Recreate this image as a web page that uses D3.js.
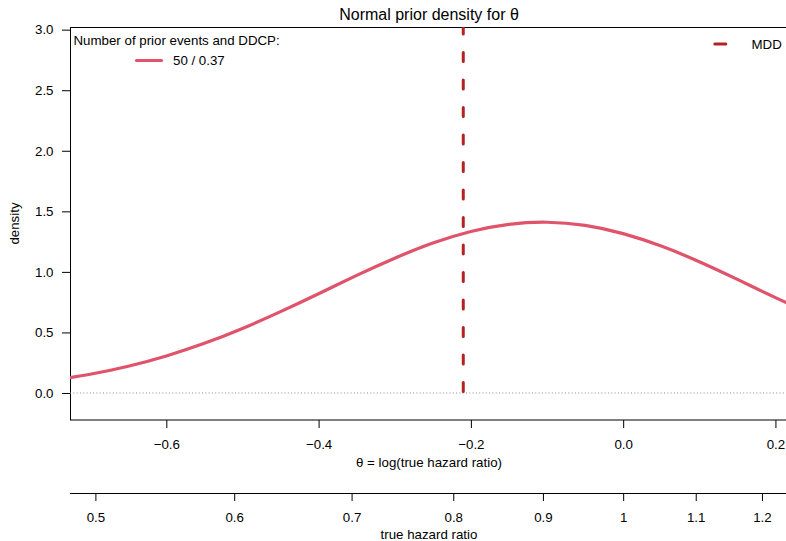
<!DOCTYPE html>
<html>
<head>
<meta charset="utf-8">
<script src="https://cdn.jsdelivr.net/npm/d3@7"></script>
<style>
  html, body { margin: 0; padding: 0; background: #fff; }
  svg { display: block; font-family: "Liberation Sans", Arial, Helvetica, sans-serif; }
</style>
</head>
<body>
<div id="chart"></div>
<script>
// ---- data ----
// theta grid (log hazard ratio) and the prior density drawn over it
const thetaGrid = [-0.75, -0.70, -0.65, -0.60, -0.55, -0.50, -0.45, -0.40, -0.35, -0.30, -0.25,
  -0.20, -0.15, -0.10, -0.05, 0.00, 0.05, 0.10, 0.15, 0.20, 0.25];
const densityValues = [0.105, 0.155, 0.221, 0.306, 0.410, 0.533, 0.672, 0.820, 0.971, 1.113, 1.238,
  1.334, 1.393, 1.410, 1.384, 1.316, 1.213, 1.084, 0.938, 0.787, 0.641];

const densityTicks = [0, 0.5, 1, 1.5, 2, 2.5, 3];
const thetaTicks = [-0.6, -0.4, -0.2, 0, 0.2];
const hazardTicks = [0.5, 0.6, 0.7, 0.8, 0.9, 1, 1.1, 1.2];
const hazardTickLabels = ['0.5', '0.6', '0.7', '0.8', '0.9', '1', '1.1', '1.2'];

const mddTheta = -0.21;
const legendTitle = 'Number of prior events and DDCP:';
const legendLabels = ['50 / 0.37'];
const mddLabel = 'MDD';

// ---- layout ----
const W = 786, H = 541;
const plot = { left: 70, right: 788, top: 27, bottom: 420 };
const thetaLim = [-0.7265, 0.2165];
const densityLim = [-0.223, 3.022];
const fontSize = 13.3;

const colors = {
  curve: '#DF536B',
  mdd: '#B22222',
  axis: '#000',
  zero: '#8a8a8a'
};

const svg = d3.select('#chart')
  .append('svg')
  .attr('width', W)
  .attr('height', H)
  .attr('viewBox', `0 0 ${W} ${H}`);

// scales
const x = d3.scaleLinear().domain(thetaLim).range([plot.left, plot.right]);
const xHR = d3.scaleLog().domain(thetaLim.map(Math.exp)).range([plot.left, plot.right]);
const y = d3.scaleLinear().domain(densityLim).range([plot.bottom, plot.top]);

// clip to plotting region
svg.append('defs').append('clipPath')
  .attr('id', 'plot-clip')
  .append('rect')
  .attr('x', plot.left)
  .attr('y', plot.top)
  .attr('width', plot.right - plot.left)
  .attr('height', plot.bottom - plot.top);

// title
svg.append('text')
  .attr('x', (plot.left + plot.right) / 2)
  .attr('y', 20)
  .attr('text-anchor', 'middle')
  .attr('font-size', 16)
  .text('Normal prior density for θ');

// y axis
const yAxis = svg.append('g')
  .attr('transform', `translate(${plot.left},0)`)
  .call(d3.axisLeft(y).tickValues(densityTicks).tickSize(8).tickPadding(8.5)
    .tickFormat(d3.format('.1f')));
yAxis.select('.domain').remove();
yAxis.selectAll('text').attr('font-size', fontSize).attr('font-family', null).attr('fill', '#000');
yAxis.selectAll('line').attr('stroke', colors.axis);
yAxis.attr('font-family', null);

svg.append('text')
  .attr('transform', `translate(19,${(plot.top + plot.bottom) / 2}) rotate(-90)`)
  .attr('text-anchor', 'middle')
  .attr('font-size', fontSize)
  .text('density');

// theta axis (bottom of plot)
const minus = d3.format('.1f');
const xAxis = svg.append('g')
  .attr('transform', `translate(0,${plot.bottom})`)
  .call(d3.axisBottom(x).tickValues(thetaTicks).tickSize(8).tickPadding(12)
    .tickFormat(d => minus(d).replace('-', '−')));
xAxis.select('.domain').remove();
xAxis.attr('font-family', null);
xAxis.selectAll('text').attr('font-size', fontSize).attr('fill', '#000');

svg.append('text')
  .attr('x', (plot.left + plot.right) / 2)
  .attr('y', 467)
  .attr('text-anchor', 'middle')
  .attr('font-size', fontSize)
  .text('θ = log(true hazard ratio)');

// hazard ratio axis (second, lower axis)
const hrY = 493;
const hrAxis = svg.append('g')
  .attr('transform', `translate(0,${hrY})`)
  .call(d3.axisBottom(xHR).tickValues(hazardTicks).tickSize(8).tickPadding(12)
    .tickFormat((d, i) => hazardTickLabels[i]));
hrAxis.select('.domain').remove();
hrAxis.attr('font-family', null);
hrAxis.selectAll('text').attr('font-size', fontSize).attr('fill', '#000');

svg.append('line')
  .attr('x1', plot.left).attr('x2', plot.right)
  .attr('y1', hrY + 0.5).attr('y2', hrY + 0.5)
  .attr('stroke', colors.axis);

svg.append('text')
  .attr('x', (plot.left + plot.right) / 2)
  .attr('y', 539)
  .attr('text-anchor', 'middle')
  .attr('font-size', fontSize)
  .text('true hazard ratio');

// plot frame
svg.append('rect')
  .attr('x', plot.left + 0.5)
  .attr('y', plot.top + 0.5)
  .attr('width', plot.right - plot.left)
  .attr('height', plot.bottom - plot.top - 0.5)
  .attr('fill', 'none')
  .attr('stroke', colors.axis);

const inner = svg.append('g').attr('clip-path', 'url(#plot-clip)');

// dotted zero line
inner.append('line')
  .attr('x1', plot.left).attr('x2', plot.right)
  .attr('y1', y(0)).attr('y2', y(0))
  .attr('stroke', colors.zero)
  .attr('stroke-width', 1)
  .attr('stroke-dasharray', '1 2.3');

// density curve
const curveData = thetaGrid.map((t, i) => ({ theta: t, density: densityValues[i] }));
inner.append('path')
  .datum(curveData)
  .attr('fill', 'none')
  .attr('stroke', colors.curve)
  .attr('stroke-width', 3.2)
  .attr('d', d3.line()
    .x(d => x(d.theta))
    .y(d => y(d.density))
    .curve(d3.curveNatural));

// MDD vertical line
inner.append('line')
  .attr('x1', x(mddTheta)).attr('x2', x(mddTheta))
  .attr('y1', y(0) - 1.5).attr('y2', plot.top)
  .attr('stroke', colors.mdd)
  .attr('stroke-width', 3)
  .attr('stroke-linecap', 'round')
  .attr('stroke-dasharray', '9 18.5');

// legend (left)
svg.append('text')
  .attr('x', 73.5)
  .attr('y', 45)
  .attr('font-size', fontSize)
  .text(legendTitle);

legendLabels.forEach((label, i) => {
  const ly = 60.5 + i * 20;
  svg.append('line')
    .attr('x1', 136.5).attr('x2', 161.5)
    .attr('y1', ly).attr('y2', ly)
    .attr('stroke', colors.curve)
    .attr('stroke-width', 3.2)
    .attr('stroke-linecap', 'round');
  svg.append('text')
    .attr('x', 173)
    .attr('y', ly + 4.7)
    .attr('font-size', fontSize)
    .text(label);
});

// legend (right)
svg.append('line')
  .attr('x1', 714.8).attr('x2', 725.8)
  .attr('y1', 44).attr('y2', 44)
  .attr('stroke', colors.mdd)
  .attr('stroke-width', 3)
  .attr('stroke-linecap', 'round');
svg.append('text')
  .attr('x', 751.5)
  .attr('y', 49)
  .attr('font-size', fontSize)
  .text(mddLabel);
</script>
</body>
</html>
